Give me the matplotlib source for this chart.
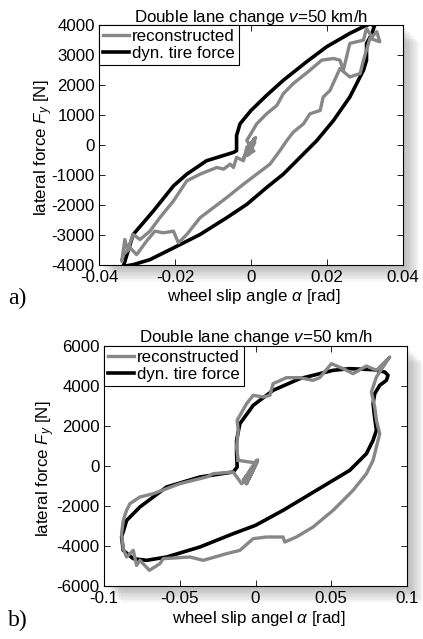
import matplotlib
matplotlib.use('Agg')
import matplotlib.pyplot as plt
from matplotlib.patches import Rectangle

plt.rcParams['font.family'] = ['Liberation Sans', 'DejaVu Sans']
plt.rcParams['mathtext.fontset'] = 'custom'
plt.rcParams['mathtext.rm'] = 'Liberation Sans'
plt.rcParams['mathtext.it'] = 'Liberation Sans:italic'
plt.rcParams['font.size'] = 12

GRAY = '#878787'
FS = 12.2

# ---- panel a data ----
a_dyn_x = [-0.0336, -0.031, -0.0257, -0.0204, -0.0169, -0.0117, -0.0046, -0.0038, -0.0038,
           -0.0029, 0.0, 0.0041, 0.0085, 0.0146, 0.0199, 0.026, 0.0296, 0.0313, 0.0325,
           0.0318, 0.0304, 0.0304, 0.0296, 0.026, 0.0217, 0.0173, 0.0129, 0.0085, 0.0041,
           -0.0011, -0.0064, -0.0134, -0.0204, -0.0266, -0.031, -0.0336]
a_dyn_y = [-4045, -2983, -2200, -1363, -972, -525, -246, -190, 313,
           704, 1151, 1654, 2156, 2771, 3274, 3721, 3944, 4034, 3980,
           3700, 3385, 2827, 2492, 1598, 816, 145, -413, -972, -1419,
           -1978, -2425, -2983, -3430, -3821, -3989, -4045]

a_rec_x = [0.0006, -0.0011, 0.0015, 0.0041, 0.0068, 0.0085, 0.0111, 0.0155, 0.0186,
           0.0217, 0.0234, 0.0243, 0.026, 0.0296, 0.0304, 0.0318, 0.0331, 0.0339,
           0.0313, 0.0296, 0.0287, 0.026, 0.0234, 0.0208, 0.019, 0.0182, 0.0155,
           0.0138, 0.0111, 0.0094, 0.0076, 0.005, 0.0015, -0.002, -0.0064, -0.0099,
           -0.0134, -0.0169, -0.0191, -0.0204, -0.0231, -0.0253, -0.0275, -0.0301,
           -0.0318, -0.0336, -0.034, -0.0332, -0.0325, -0.031, -0.0292, -0.0266,
           -0.024, -0.0204, -0.0169, -0.0134, -0.009, -0.0072, -0.0055, -0.0046,
           -0.0038, -0.002, -0.0011, 0.0006, 0.0012, -0.0005, 0.001, -0.002, 0.0008,
           -0.001, 0.0006]
a_rec_y = [-200, 150, 704, 1039, 1318, 1709, 2045, 2492, 2827,
           2883, 2827, 2492, 3385, 3497, 3888, 3600, 3777, 3441,
           3553, 2827, 2380, 2268, 2547, 1821, 1598, 1151, 1039,
           704, 425, 145, -190, -637, -972, -1307, -1754, -2089,
           -2425, -2983, -3263, -2872, -2927, -2872, -3207, -3654,
           -3430, -3654, -3877, -3150, -3500, -2983, -3151, -2872,
           -2425, -1866, -1196, -972, -749, -804, -637, -749,
           -413, -525, -78, 145, 250, -300, 100, -450, 200,
           -350, -200]

# ---- panel b data ----
b_dyn_x = [-0.0147, -0.0367, -0.0587, -0.0763, -0.085, -0.0884, -0.0873, -0.0807, -0.0719,
           -0.0587, -0.0367, -0.0147, 0.0, 0.0182, 0.0402, 0.0622, 0.0732, 0.0776,
           0.0798, 0.0785, 0.0776, 0.0787, 0.082, 0.0864, 0.0875, 0.0853, 0.0776,
           0.0622, 0.0512, 0.0292, 0.0116, -0.0015, -0.0103, -0.0125, -0.0125,
           -0.0121, -0.0147]
b_dyn_y = [-300, -550, -1050, -2050, -2717, -3550, -4217, -4633, -4717,
           -4550, -4050, -3383, -2967, -2217, -1217, -217, 617, 1283,
           1783, 2500, 3117, 3617, 4033, 4283, 4533, 4700, 4817,
           4867, 4783, 4367, 3783, 3033, 2117, 1283, 617,
           -50, -300]

b_rec_x = [-0.0114, -0.0125, -0.0114, -0.0121, -0.0059, -0.0015, 0.0051, 0.0095, 0.0116,
           0.0204, 0.0292, 0.038, 0.0424, 0.0501, 0.0578, 0.0644, 0.0732, 0.0798,
           0.0864, 0.0886, 0.0798, 0.0765, 0.0787, 0.0798, 0.082, 0.0798, 0.0776,
           0.0732, 0.0644, 0.0512, 0.038, 0.027, 0.0193, 0.0182, 0.0073, -0.0015,
           -0.0103, -0.0191, -0.0345, -0.0433, -0.0609, -0.0631, -0.07, -0.0763,
           -0.0785, -0.0807, -0.0851, -0.0873, -0.0884, -0.0873, -0.0851, -0.0829,
           -0.0763, -0.0675, -0.0587, -0.0499, -0.0411, -0.0323, -0.0279, -0.0147,
           -0.0092, -0.0059, -0.0037, 0.0007, -0.004, 0.001, -0.006, 0.0015, -0.008,
           -0.002, 0.0005, -0.0114]
b_rec_y = [283, 950, 1783, 2283, 3117, 3533, 3450, 3533, 4117,
           4417, 4417, 4283, 4417, 5117, 4867, 4617, 5000, 4783,
           5283, 5450, 4450, 3700, 2950, 2283, 1617, 950, 283,
           -383, -1217, -2217, -3050, -3550, -3800, -3550, -3550, -3633,
           -4217, -4383, -4717, -4550, -4633, -4883, -5217, -4717,
           -4967, -4217, -4550, -4133, -3383, -2717, -2217, -1883,
           -1550, -1383, -1133, -883, -717, -550, -383, -300,
           -883, -717, -217, 283, -600, 200, -900, 300, -700,
           -100, 150, 283]

W, H = 423, 639
fig = plt.figure(figsize=(W / 100, H / 100), dpi=100)


def add_shadow(rect):
    # soft drop shadow to the right and below the axes box
    l, b, w, h = rect
    for i in range(12):
        off = (i + 1) * 1.4
        fig.patches.append(Rectangle((l + off / W, b - off / H), w, h,
                                     transform=fig.transFigure, facecolor='k',
                                     edgecolor='none', alpha=0.022, zorder=-5))


def panel(rect, dyn_x, dyn_y, rec_x, rec_y, xlim, ylim, xticks, yticks,
          xticklabels, yticklabels, xlabel, ylab_x, xlab_y, title_pad):
    add_shadow(rect)
    ax = fig.add_axes(rect)
    ax.plot(dyn_x, dyn_y, color='black', lw=2.6, label='dyn. tire force', zorder=2)
    ax.plot(rec_x, rec_y, color=GRAY, lw=2.4, label='reconstructed', zorder=3)
    ax.set_xlim(xlim)
    ax.set_ylim(ylim)
    ax.set_xticks(xticks)
    ax.set_xticklabels(xticklabels)
    ax.set_yticks(yticks)
    ax.set_yticklabels(yticklabels)
    ax.tick_params(direction='in', top=True, right=True, length=4, width=0.6,
                   labelsize=FS)
    ax.tick_params(axis='x', pad=3.5)
    ax.tick_params(axis='y', pad=3)
    for s in ax.spines.values():
        s.set_linewidth(0.8)
    ax.set_title(r'Double lane change $v$=50 km/h', fontsize=FS, pad=title_pad)
    ax.set_xlabel(xlabel, fontsize=FS)
    ax.set_ylabel(r'lateral force $F_y$ [N]', fontsize=FS)
    ax.yaxis.set_label_coords(ylab_x, 0.49)
    ax.xaxis.set_label_coords(0.51, xlab_y)
    h, l = ax.get_legend_handles_labels()
    leg = ax.legend(h[::-1], l[::-1], loc='upper left', fancybox=False,
                    framealpha=1, edgecolor='black', borderpad=0.25,
                    handlelength=1.5, handletextpad=0.2, labelspacing=0.08,
                    borderaxespad=0.0, fontsize=FS)
    leg.get_frame().set_linewidth(0.8)
    return ax


xt_a = [-0.04, -0.02, 0, 0.02, 0.04]
xtl_a = ['-0.04', '-0.02', '0', '0.02', '0.04']
yt_a = [-4000, -3000, -2000, -1000, 0, 1000, 2000, 3000, 4000]
ytl_a = [str(v) for v in yt_a]

xt_b = [-0.1, -0.05, 0, 0.05, 0.1]
xtl_b = ['-0.1', '-0.05', '0', '0.05', '0.1']
yt_b = [-6000, -4000, -2000, 0, 2000, 4000, 6000]
ytl_b = [str(v) for v in yt_b]

panel([99 / W, 1 - 265 / H, 304 / W, 240 / H], a_dyn_x, a_dyn_y, a_rec_x, a_rec_y,
      (-0.04, 0.04), (-4000, 4000), xt_a, yt_a, xtl_a, ytl_a,
      r'wheel slip angle $\alpha$ [rad]', -0.145, -0.09, 2)
panel([104 / W, 1 - 586 / H, 303 / W, 240 / H], b_dyn_x, b_dyn_y, b_rec_x, b_rec_y,
      (-0.1, 0.1), (-6000, 6000), xt_b, yt_b, xtl_b, ytl_b,
      r'wheel slip angel $\alpha$ [rad]', -0.155, -0.095, 3)

fig.text(8 / W, 1 - 298 / H, 'a)', family='Liberation Serif', fontsize=17, va='center')
fig.text(8 / W, 1 - 620 / H, 'b)', family='Liberation Serif', fontsize=17, va='center')

fig.savefig('out.png', dpi=100, facecolor='white')
